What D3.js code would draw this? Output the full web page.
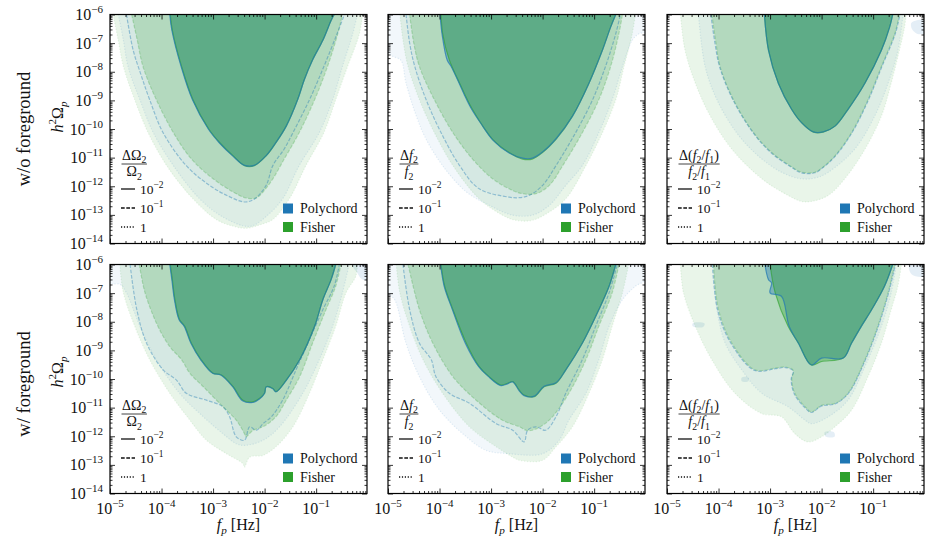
<!DOCTYPE html>
<html>
<head>
<meta charset="utf-8">
<script src="https://cdn.jsdelivr.net/npm/d3@7"></script>
<style>
body { margin: 0; background: #fff; }
#chart text { fill: #111; }
</style>
</head>
<body>
<svg id="chart" width="925" height="538"></svg>
<script>
// Contours are [log10 f_p, log10 h^2 Omega_p], traced along the lower edge of each region.
// Levels: index 0 -> 1 (dotted), 1 -> 1e-1 (dashed), 2 -> 1e-2 (solid)

// top-left: dOmega2/Omega2, w/o foreground
var fisherA1 = [[-4.94,-6],[-4.84,-6.9],[-4.74,-7.82],[-4.52,-8.98],[-4.26,-10.13],[-3.9,-11.28],[-3.39,-12.44],[-2.94,-13.16],[-2.6,-13.4],[-2.36,-13.47],[-2.1,-13.35],[-1.84,-13.16],[-1.52,-12.44],[-1.2,-11.28],[-0.85,-10.13],[-0.62,-8.98],[-0.39,-7.82],[-0.16,-6.67],[-0.1,-6]];
var fisherA2 = [[-4.58,-6],[-4.47,-6.9],[-4.36,-7.82],[-4.1,-8.98],[-3.77,-10.13],[-3.42,-11.05],[-3.0,-11.74],[-2.61,-12.2],[-2.36,-12.41],[-2.16,-12.41],[-2.03,-12.2],[-1.84,-11.74],[-1.62,-11.05],[-1.33,-10.13],[-1.03,-8.98],[-0.78,-7.82],[-0.58,-6.67],[-0.49,-6]];
var fisherA3 = [[-3.83,-6],[-3.79,-6.55],[-3.61,-7.82],[-3.39,-8.98],[-3.08,-10.01],[-2.87,-10.48],[-2.61,-10.94],[-2.39,-11.28],[-2.2,-11.28],[-1.97,-10.94],[-1.78,-10.48],[-1.58,-9.9],[-1.36,-8.98],[-1.23,-8.28],[-1.07,-7.59],[-0.87,-6.9],[-0.71,-6.21],[-0.65,-6]];
var polyA1 = [[-4.84,-6],[-4.74,-6.9],[-4.65,-7.82],[-4.42,-8.98],[-4.16,-10.13],[-3.77,-11.28],[-3.26,-12.44],[-2.87,-13.01],[-2.42,-13.38],[-2.23,-13.38],[-1.94,-13.01],[-1.65,-12.44],[-1.33,-11.28],[-0.94,-10.13],[-0.68,-8.98],[-0.49,-7.82],[-0.29,-6.67],[-0.2,-6]];
var polyA2 = [[-4.68,-6],[-4.55,-7.25],[-4.4,-8.1],[-4.23,-8.98],[-3.97,-10.13],[-3.52,-11.28],[-3.07,-11.97],[-2.7,-12.35],[-2.39,-12.55],[-2.2,-12.45],[-1.97,-11.97],[-1.84,-11.28],[-1.62,-10.7],[-1.45,-10.13],[-1.13,-8.98],[-0.85,-7.82],[-0.6,-6.7],[-0.45,-6]];
var polyA3 = [[-3.84,-6],[-3.8,-6.55],[-3.62,-7.82],[-3.4,-8.98],[-3.09,-10.01],[-2.88,-10.48],[-2.62,-10.94],[-2.39,-11.27],[-2.2,-11.27],[-1.97,-10.93],[-1.78,-10.47],[-1.58,-9.9],[-1.36,-8.98],[-1.23,-8.28],[-1.07,-7.59],[-0.87,-6.9],[-0.71,-6.21],[-0.65,-6]];

// top-middle: df2/f2, w/o foreground
var fisherB1 = [[-4.77,-6],[-4.7,-7],[-4.61,-7.82],[-4.39,-8.98],[-4.1,-10.13],[-3.74,-11.28],[-3.23,-12.44],[-2.78,-13.01],[-2.52,-13.19],[-2.2,-13.19],[-1.87,-12.9],[-1.55,-12.44],[-1.16,-11.28],[-0.84,-10.13],[-0.58,-8.98],[-0.42,-7.82],[-0.26,-6.67],[-0.2,-6]];
var fisherB2 = [[-4.58,-6],[-4.5,-7],[-4.39,-7.82],[-4.1,-8.98],[-3.74,-10.13],[-3.36,-11.05],[-2.97,-11.74],[-2.58,-12.15],[-2.39,-12.26],[-2.13,-12.26],[-1.87,-11.97],[-1.61,-11.28],[-1.23,-10.13],[-0.91,-8.98],[-0.68,-7.82],[-0.52,-6.67],[-0.45,-6]];
var fisherB3 = [[-3.97,-6],[-3.94,-6.67],[-3.81,-7.59],[-3.61,-8.4],[-3.36,-9.32],[-2.97,-10.36],[-2.65,-10.82],[-2.39,-11.05],[-2.2,-11.05],[-2.0,-10.82],[-1.74,-10.36],[-1.42,-9.55],[-1.1,-8.4],[-0.84,-7.25],[-0.68,-6.44],[-0.58,-6]];
var polyB1 = [[-5,-6],[-5,-7.3],[-4.92,-7.45],[-4.75,-7.6],[-4.65,-8.4],[-4.45,-9.55],[-4.26,-10.36],[-3.94,-11.28],[-3.48,-12.2],[-3.03,-12.67],[-2.58,-13.01],[-2.2,-13.01],[-1.87,-12.67],[-1.55,-11.97],[-1.23,-11.28],[-0.91,-10.13],[-0.65,-8.98],[-0.45,-7.82],[-0.26,-6.9],[-0.13,-6.67],[0,-6.6],[0,-6]];
var polyB2 = [[-4.65,-6],[-4.58,-7],[-4.48,-7.82],[-4.26,-8.98],[-3.97,-10.13],[-3.61,-11.28],[-3.23,-12.09],[-2.65,-12.38],[-2.45,-12.4],[-2.26,-12.32],[-2.0,-11.97],[-1.74,-11.28],[-1.36,-10.13],[-1.03,-8.98],[-0.78,-7.82],[-0.58,-6.67],[-0.49,-6]];
var polyB3 = [[-3.99,-6],[-3.95,-6.7],[-3.85,-7.6],[-3.78,-7.8],[-3.62,-8.4],[-3.52,-8.8],[-3.38,-9.3],[-3.2,-9.8],[-2.97,-10.38],[-2.65,-10.84],[-2.39,-11.02],[-2.2,-11.02],[-2.0,-10.8],[-1.74,-10.34],[-1.42,-9.55],[-1.1,-8.4],[-0.84,-7.25],[-0.68,-6.44],[-0.58,-6]];

// top-right: d(f2/f1)/(f2/f1), w/o foreground
var fisherC1 = [[-4.74,-6],[-4.65,-7.25],[-4.45,-8.4],[-4.16,-9.55],[-3.74,-10.71],[-3.16,-11.74],[-2.65,-12.32],[-2.39,-12.53],[-2.2,-12.53],[-1.87,-12.32],[-1.55,-11.74],[-1.16,-10.71],[-0.84,-9.55],[-0.65,-8.4],[-0.49,-7.25],[-0.39,-6.44],[-0.36,-6]];
var fisherC2 = [[-4.13,-6],[-4.05,-7],[-3.97,-7.82],[-3.71,-8.98],[-3.32,-10.13],[-2.97,-10.82],[-2.6,-11.3],[-2.39,-11.51],[-2.13,-11.51],[-1.95,-11.3],[-1.74,-10.94],[-1.42,-10.13],[-1.1,-8.98],[-0.84,-7.82],[-0.58,-6.67],[-0.49,-6]];
var fisherC3 = [[-3.11,-6],[-3.03,-7.25],[-2.84,-8.4],[-2.58,-9.32],[-2.39,-9.78],[-2.16,-10.11],[-1.97,-10.11],[-1.74,-9.9],[-1.49,-9.32],[-1.16,-8.4],[-0.84,-7.25],[-0.68,-6.44],[-0.62,-6]];
var polyC1 = [[-4.39,-6],[-4.26,-7.82],[-4.03,-8.98],[-3.65,-10.13],[-3.23,-10.94],[-2.78,-11.51],[-2.39,-11.74],[-2.1,-11.7],[-1.87,-11.51],[-1.36,-10.71],[-0.97,-9.55],[-0.71,-8.4],[-0.52,-7.25],[-0.42,-6]];
var polyC2 = [[-4.15,-6],[-4.07,-7],[-3.98,-7.82],[-3.72,-8.98],[-3.33,-10.13],[-2.98,-10.83],[-2.6,-11.32],[-2.39,-11.53],[-2.13,-11.53],[-1.95,-11.31],[-1.73,-10.94],[-1.41,-10.13],[-1.09,-8.98],[-0.83,-7.82],[-0.57,-6.67],[-0.48,-6]];
var polyC3 = [[-3.11,-6],[-3.03,-7.25],[-2.84,-8.4],[-2.58,-9.32],[-2.39,-9.78],[-2.16,-10.1],[-1.97,-10.1],[-1.74,-9.9],[-1.49,-9.32],[-1.16,-8.4],[-0.84,-7.25],[-0.68,-6.44],[-0.62,-6]];
var islandC = [[-0.26,-6.3],[-0.15,-6.2],[0,-6.2],[0,-6.65],[-0.15,-6.67],[-0.25,-6.5]];

// bottom-left: dOmega2/Omega2, w/ foreground
var fisherD1 = [[-4.81,-6],[-4.74,-6.99],[-4.52,-8.16],[-4.23,-9.33],[-3.84,-10.5],[-3.45,-11.44],[-3.13,-12.14],[-2.74,-12.61],[-2.42,-12.96],[-2.39,-13.08],[-2.29,-12.73],[-2.03,-12.67],[-1.78,-12.37],[-1.45,-11.67],[-1.13,-10.5],[-0.87,-9.33],[-0.62,-8.16],[-0.42,-6.99],[-0.23,-6.41],[-0.2,-6]];
var fisherD2 = [[-4.43,-6],[-4.32,-6.99],[-4.07,-8.16],[-3.84,-8.87],[-3.61,-9.33],[-3.45,-9.8],[-3.19,-10.27],[-2.81,-10.97],[-2.55,-11.44],[-2.39,-11.91],[-2.36,-12.02],[-2.23,-11.8],[-2.03,-11.67],[-1.78,-11.32],[-1.58,-10.74],[-1.32,-9.92],[-1.07,-8.75],[-0.81,-7.58],[-0.62,-6.76],[-0.52,-6]];
var fisherD3 = [[-3.83,-6],[-3.79,-6.53],[-3.74,-7.23],[-3.65,-7.93],[-3.55,-8.16],[-3.42,-8.75],[-3.23,-9.33],[-3.0,-9.8],[-2.84,-9.86],[-2.61,-10.27],[-2.42,-10.74],[-2.23,-10.8],[-2.1,-10.68],[-2.0,-10.5],[-1.97,-10.27],[-1.84,-10.33],[-1.78,-10.44],[-1.58,-10.04],[-1.32,-9.33],[-1.03,-8.16],[-0.87,-7.23],[-0.71,-6.53],[-0.62,-6]];
var polyD1 = [[-5,-6],[-5,-6.64],[-4.8,-6.7],[-4.68,-6.99],[-4.42,-8.16],[-4.1,-9.33],[-3.65,-10.5],[-3.19,-11.32],[-2.81,-11.91],[-2.55,-12.26],[-2.39,-12.32],[-2.03,-12.14],[-1.71,-11.67],[-1.26,-10.5],[-0.94,-9.33],[-0.68,-8.16],[-0.49,-6.99],[-0.36,-6]];
var polyD2 = [[-4.61,-6],[-4.48,-7.58],[-4.29,-8.75],[-3.97,-9.68],[-3.71,-10.04],[-3.52,-10.5],[-3.13,-10.74],[-2.81,-10.97],[-2.68,-11.32],[-2.55,-12.02],[-2.39,-12.14],[-2.29,-11.67],[-2.16,-11.79],[-2.03,-11.56],[-1.87,-11.32],[-1.65,-10.74],[-1.39,-9.68],[-1.16,-8.75],[-0.87,-7.58],[-0.65,-6.76],[-0.55,-6]];
var polyD3 = [[-3.84,-6],[-3.8,-6.53],[-3.75,-7.23],[-3.66,-7.93],[-3.56,-8.16],[-3.43,-8.75],[-3.24,-9.33],[-3.01,-9.8],[-2.85,-9.86],[-2.62,-10.27],[-2.43,-10.76],[-2.23,-10.82],[-2.1,-10.7],[-2.0,-10.5],[-1.97,-10.28],[-1.84,-10.34],[-1.78,-10.45],[-1.58,-10.05],[-1.32,-9.33],[-1.03,-8.16],[-0.87,-7.23],[-0.71,-6.53],[-0.62,-6]];
var islandD = [[-0.3,-6],[0,-6],[0,-6.55],[-0.12,-6.5],[-0.2,-6.3]];

// bottom-middle: df2/f2, w/ foreground
var fisherE1 = [[-4.84,-6],[-4.77,-6.99],[-4.58,-8.16],[-4.32,-9.33],[-3.94,-10.5],[-3.42,-11.67],[-2.9,-12.37],[-2.58,-12.73],[-2.45,-12.84],[-2.0,-12.84],[-1.74,-12.37],[-1.42,-11.67],[-1.1,-10.5],[-0.84,-9.33],[-0.65,-8.16],[-0.45,-6.99],[-0.33,-6]];
var fisherE2 = [[-4.61,-6],[-4.39,-7.58],[-4.13,-8.75],[-3.74,-9.92],[-3.29,-10.74],[-2.78,-11.44],[-2.45,-11.67],[-2.32,-11.79],[-2.2,-11.79],[-2.0,-11.62],[-1.81,-11.32],[-1.49,-10.5],[-1.16,-9.33],[-0.91,-8.16],[-0.65,-6.99],[-0.52,-6]];
var fisherE3 = [[-3.97,-6],[-3.9,-6.76],[-3.74,-7.58],[-3.48,-8.75],[-3.23,-9.57],[-3.05,-9.9],[-2.81,-10.21],[-2.68,-10.15],[-2.58,-10.09],[-2.45,-10.4],[-2.36,-10.56],[-2.16,-10.62],[-1.97,-10.27],[-1.74,-10.15],[-1.55,-9.68],[-1.23,-8.75],[-0.91,-7.58],[-0.71,-6.76],[-0.58,-6]];
var polyE1 = [[-5,-6],[-5,-7.0],[-4.87,-7.23],[-4.65,-8.75],[-4.39,-9.92],[-4.0,-11.09],[-3.48,-12.02],[-3.1,-12.49],[-2.65,-12.61],[-2.0,-12.61],[-1.68,-12.14],[-1.49,-11.44],[-1.16,-10.5],[-0.91,-9.33],[-0.71,-8.16],[-0.45,-7.23],[-0.2,-6.76],[0,-6.53],[0,-6]];
var polyE2 = [[-4.71,-6],[-4.58,-7.58],[-4.39,-8.75],[-4.16,-9.33],[-4.07,-9.92],[-3.81,-10.5],[-3.42,-10.85],[-2.9,-11.56],[-2.58,-11.79],[-2.36,-12.2],[-2.29,-11.79],[-2.13,-11.67],[-1.94,-11.79],[-1.74,-11.32],[-1.55,-10.5],[-1.23,-9.33],[-0.97,-8.16],[-0.71,-6.99],[-0.55,-6]];
var polyE3 = [[-3.98,-6],[-3.91,-6.76],[-3.75,-7.58],[-3.5,-8.75],[-3.24,-9.57],[-3.06,-9.9],[-2.81,-10.23],[-2.68,-10.17],[-2.58,-10.1],[-2.45,-10.42],[-2.36,-10.58],[-2.16,-10.6],[-1.97,-10.25],[-1.74,-10.13],[-1.55,-9.68],[-1.23,-8.75],[-0.91,-7.58],[-0.71,-6.76],[-0.58,-6]];

// bottom-right: d(f2/f1)/(f2/f1), w/ foreground
var fisherF1 = [[-4.74,-6],[-4.68,-6.99],[-4.45,-8.16],[-4.13,-9.33],[-3.68,-10.5],[-3.16,-11.21],[-2.78,-11.32],[-2.52,-11.91],[-2.26,-12.2],[-2.0,-12.02],[-1.74,-11.67],[-1.42,-11.09],[-1.1,-9.92],[-0.84,-8.75],[-0.65,-7.58],[-0.52,-6.76],[-0.45,-6]];
var fisherF2 = [[-4.1,-6],[-4.0,-7.58],[-3.74,-8.75],[-3.29,-9.68],[-2.9,-9.62],[-2.7,-9.58],[-2.55,-9.7],[-2.58,-10.0],[-2.52,-10.5],[-2.32,-10.97],[-2.2,-11.15],[-2.0,-10.92],[-1.74,-10.85],[-1.49,-10.5],[-1.16,-9.33],[-0.91,-8.16],[-0.71,-6.99],[-0.58,-6]];
var fisherF3 = [[-3.0,-6],[-2.9,-6.99],[-2.65,-8.16],[-2.45,-8.75],[-2.2,-9.51],[-2.0,-9.39],[-1.58,-9.27],[-1.42,-8.75],[-1.23,-8.16],[-1.03,-7.58],[-0.78,-6.76],[-0.62,-6]];
var polyF1 = [[-4.1,-6],[-4.03,-7.58],[-3.87,-8.75],[-3.55,-9.68],[-3.16,-10.5],[-2.65,-10.97],[-2.32,-11.44],[-2.2,-11.56],[-1.87,-11.32],[-1.49,-10.74],[-1.16,-9.57],[-0.84,-8.16],[-0.65,-6.99],[-0.55,-6]];
var polyF2 = [[-4.12,-6],[-4.02,-7.58],[-3.76,-8.75],[-3.3,-9.7],[-2.9,-9.64],[-2.7,-9.6],[-2.55,-9.72],[-2.59,-10.0],[-2.53,-10.52],[-2.33,-10.99],[-2.2,-11.17],[-2.0,-10.94],[-1.74,-10.87],[-1.48,-10.5],[-1.15,-9.33],[-0.9,-8.16],[-0.7,-6.99],[-0.57,-6]];
var polyF3 = [[-3.1,-6],[-3.03,-6.53],[-2.97,-6.64],[-3.0,-6.99],[-2.78,-7.11],[-2.63,-8.16],[-2.45,-8.75],[-2.2,-9.51],[-2.0,-9.27],[-1.58,-9.27],[-1.42,-8.75],[-1.23,-8.16],[-1.03,-7.58],[-0.78,-6.76],[-0.62,-6]];
var islandF1 = [[-4.5,-8.05],[-4.27,-8.06],[-4.3,-8.18],[-4.5,-8.16]];
var islandF2 = [[-3.55,-9.95],[-3.42,-9.95],[-3.42,-10.08],[-3.55,-10.08]];
var islandF3 = [[-1.94,-11.85],[-1.76,-11.86],[-1.75,-12.02],[-1.93,-12.0]];
var islandF4 = [[-0.3,-6],[0,-6],[0,-6.4],[-0.25,-6.35]];

// axes
var xDomain = [1e-5, 0.97];
var yDomain = [1e-14, 1e-6];
var xTickExp = [-5, -4, -3, -2, -1];
var yTickExp = [-6, -7, -8, -9, -10, -11, -12, -13, -14];
var rowLabels = ["w/o foreground", "w/ foreground"];
var methodNames = ["Polychord", "Fisher"];
var methodColors = ["#1f77b4", "#2ca02c"];
var levelExp = ["\u22122", "\u22121", ""];
var levelDash = [null, "3.7,1.6", "1.2,1.7"];

// fraction titles of the legends, one per column
var fracNum = [
	[{t: "\u0394\u03a9"}, {t: "2", sub: 1}],
	[{t: "\u0394"}, {t: "f", i: 1}, {t: "2", sub: 1}],
	[{t: "\u0394("}, {t: "f", i: 1}, {t: "2", sub: 1}, {t: "/"}, {t: "f", i: 1}, {t: "1", sub: 1}, {t: ")"}]
];
var fracDen = [
	[{t: "\u03a9"}, {t: "2", sub: 1}],
	[{t: "f", i: 1}, {t: "2", sub: 1}],
	[{t: "f", i: 1}, {t: "2", sub: 1}, {t: "/"}, {t: "f", i: 1}, {t: "1", sub: 1}]
];

var panels = [
	{row: 0, col: 0, fisher: [fisherA1, fisherA2, fisherA3], poly: [polyA1, polyA2, polyA3], islands: []},
	{row: 0, col: 1, fisher: [fisherB1, fisherB2, fisherB3], poly: [polyB1, polyB2, polyB3], islands: []},
	{row: 0, col: 2, fisher: [fisherC1, fisherC2, fisherC3], poly: [polyC1, polyC2, polyC3], islands: [islandC]},
	{row: 1, col: 0, fisher: [fisherD1, fisherD2, fisherD3], poly: [polyD1, polyD2, polyD3], islands: [islandD]},
	{row: 1, col: 1, fisher: [fisherE1, fisherE2, fisherE3], poly: [polyE1, polyE2, polyE3], islands: []},
	{row: 1, col: 2, fisher: [fisherF1, fisherF2, fisherF3], poly: [polyF1, polyF2, polyF3], islands: [islandF1, islandF2, islandF3, islandF4]}
];

var W = 257, H = 229;
var colLeft = [110, 388, 667];
var rowTop = [14.5, 264.5];

var polyFill = [0.06, 0.04, 0.38];
var fisherFill = [0.1, 0.2, 0.36];
var polyStroke = [0.12, 0.4, 0.7];
var fisherStroke = [0.1, 0.25, 0.6];

// first serif face that the browser really has
function pickFont(list) {
	var ctx = document.createElement("canvas").getContext("2d");
	var s = "Polychord Fisher foreground 0123456789";
	for (var i = 0; i < list.length; i++) {
		var hit = ["monospace", "sans-serif"].some(function(base) {
			ctx.font = "20px " + base;
			var w0 = ctx.measureText(s).width;
			ctx.font = "20px '" + list[i] + "', " + base;
			return ctx.measureText(s).width !== w0;
		});
		if (hit) return list[i];
	}
	return "serif";
}
var FONT = pickFont(["Liberation Serif", "DejaVu Serif", "Noto Serif", "Times New Roman"]);

var svg = d3.select("#chart").style("font-family", "'" + FONT + "', serif");

// text with italic / sub / superscript pieces
function rich(sel, parts, size) {
	var cur = 0;
	parts.forEach(function(p) {
		var off = p.sub ? size * 0.28 : (p.sup ? -size * 0.42 : 0);
		var ts = sel.append("tspan").attr("dy", off - cur).text(p.t)
			.attr("font-size", (p.sub || p.sup) ? size * 0.7 : size);
		if (p.i) ts.attr("font-style", "italic");
		cur = off;
	});
	return sel;
}

function drawTicks(g, axisFn, scale, vals, size, tx, ty) {
	g.append("g").attr("transform", "translate(" + tx + "," + ty + ")")
		.call(axisFn(scale).tickValues(vals).tickSizeInner(-size).tickSizeOuter(0)
			.tickFormat(function() { return ""; }))
		.call(function(a) { a.select(".domain").remove(); })
		.selectAll("line").attr("stroke", "#000").attr("stroke-width", 0.8);
}

function drawPanel(p) {
	var g = svg.append("g").attr("transform", "translate(" + colLeft[p.col] + "," + rowTop[p.row] + ")");
	var x = d3.scaleLog().domain(xDomain).range([0, W]);
	var y = d3.scaleLog().domain(yDomain).range([H, 0]);
	var clipId = "clip" + p.row + p.col;
	g.append("clipPath").attr("id", clipId).append("rect").attr("width", W).attr("height", H);
	var plot = g.append("g").attr("clip-path", "url(#" + clipId + ")");

	var line = d3.line()
		.x(function(d) { return x(Math.pow(10, d[0])); })
		.y(function(d) { return y(Math.pow(10, d[1])); })
		.curve(d3.curveCatmullRom.alpha(0.5));
	var blob = d3.line()
		.x(function(d) { return x(Math.pow(10, d[0])); })
		.y(function(d) { return y(Math.pow(10, d[1])); })
		.curve(d3.curveCatmullRomClosed);

	p.islands.forEach(function(isl) {
		plot.append("path").attr("d", blob(isl)).attr("fill", methodColors[0]).attr("fill-opacity", 0.12);
	});

	// filled regions, outer level first
	for (var lv = 0; lv < 3; lv++) {
		plot.append("path").attr("d", line(p.poly[lv]) + "Z")
			.attr("fill", methodColors[0]).attr("fill-opacity", polyFill[lv]);
		plot.append("path").attr("d", line(p.fisher[lv]) + "Z")
			.attr("fill", methodColors[1]).attr("fill-opacity", fisherFill[lv]);
	}
	// contour lines, Polychord on top
	for (var lv = 0; lv < 3; lv++) {
		var dash = levelDash[2 - lv];
		plot.append("path").attr("d", line(p.fisher[lv])).attr("fill", "none")
			.attr("stroke", methodColors[1]).attr("stroke-opacity", fisherStroke[lv])
			.attr("stroke-width", 1.2).attr("stroke-dasharray", dash);
		plot.append("path").attr("d", line(p.poly[lv])).attr("fill", "none")
			.attr("stroke", methodColors[0]).attr("stroke-opacity", polyStroke[lv])
			.attr("stroke-width", 1.2).attr("stroke-dasharray", dash);
	}

	// ticks on all four sides, pointing inwards
	var xMaj = xTickExp.map(function(e) { return Math.pow(10, e); });
	var yMaj = yTickExp.map(function(e) { return Math.pow(10, e); });
	var xMin = [], yMin = [];
	xTickExp.forEach(function(e) { for (var m = 2; m < 10; m++) xMin.push(m * Math.pow(10, e)); });
	yTickExp.slice(1).forEach(function(e) { for (var m = 2; m < 10; m++) yMin.push(m * Math.pow(10, e)); });
	drawTicks(g, d3.axisBottom, x, xMaj, 5, 0, H);
	drawTicks(g, d3.axisBottom, x, xMin, 2.5, 0, H);
	drawTicks(g, d3.axisTop, x, xMaj, 5, 0, 0);
	drawTicks(g, d3.axisTop, x, xMin, 2.5, 0, 0);
	drawTicks(g, d3.axisLeft, y, yMaj, 5, 0, 0);
	drawTicks(g, d3.axisLeft, y, yMin, 2.5, 0, 0);
	drawTicks(g, d3.axisRight, y, yMaj, 5, W, 0);
	drawTicks(g, d3.axisRight, y, yMin, 2.5, W, 0);

	g.append("rect").attr("width", W).attr("height", H)
		.attr("fill", "none").attr("stroke", "#000").attr("stroke-width", 1.2);

	if (p.col === 0) {
		yTickExp.forEach(function(e) {
			var t = g.append("text").attr("x", -7).attr("y", y(Math.pow(10, e)) + 5.5)
				.attr("text-anchor", "end").attr("font-size", 16);
			t.append("tspan").text("10");
			t.append("tspan").attr("dy", -7).attr("font-size", 11).text("\u2212" + (-e));
		});
	}
	if (p.row === 1) {
		xTickExp.forEach(function(e) {
			var t = g.append("text").attr("x", x(Math.pow(10, e))).attr("y", H + 20)
				.attr("text-anchor", "middle").attr("font-size", 16);
			t.append("tspan").text("10");
			t.append("tspan").attr("dy", -7).attr("font-size", 11).text("\u2212" + (-e));
		});
		rich(g.append("text").attr("x", W / 2).attr("y", H + 36.5).attr("text-anchor", "middle"),
			[{t: "f", i: 1}, {t: "p", i: 1, sub: 1}, {t: " [Hz]"}], 16);
	}

	// legend: error level
	var num = rich(g.append("text").attr("x", 12).attr("y", 145), fracNum[p.col], 14);
	var nw = num.node().getBBox().width;
	g.append("line").attr("x1", 11.5).attr("x2", 12.5 + nw).attr("y1", 149.5).attr("y2", 149.5)
		.attr("stroke", "#111").attr("stroke-width", 0.8);
	rich(g.append("text").attr("x", 12 + nw / 2).attr("y", 161.5).attr("text-anchor", "middle"), fracDen[p.col], 14);
	for (var k = 0; k < 3; k++) {
		var ly = 174.5 + k * 19;
		g.append("line").attr("x1", 11).attr("x2", 25).attr("y1", ly).attr("y2", ly)
			.attr("stroke", "#111").attr("stroke-width", 1.3).attr("stroke-dasharray", levelDash[k]);
		var t = g.append("text").attr("x", 30).attr("y", ly + 4.5).attr("font-size", 13.5);
		if (levelExp[k]) {
			t.append("tspan").text("10");
			t.append("tspan").attr("dy", -5.5).attr("font-size", 9.5).text(levelExp[k]);
		} else {
			t.text("1");
		}
	}
	// legend: method
	methodNames.forEach(function(name, i) {
		g.append("rect").attr("x", 173).attr("y", 189 + i * 18.5).attr("width", 10).attr("height", 10)
			.attr("fill", methodColors[i]);
		g.append("text").attr("x", 190).attr("y", 198.5 + i * 18.5).attr("font-size", 14).text(name);
	});
}

panels.forEach(drawPanel);

// row labels
rowLabels.forEach(function(label, r) {
	var cy = rowTop[r] + H / 2;
	svg.append("text").attr("transform", "translate(30," + (cy + (r ? 5 : 0)) + ") rotate(-90)")
		.attr("text-anchor", "middle").attr("font-size", 18.5).text(label);
	rich(svg.append("text").attr("transform", "translate(63," + (cy - (r ? 7 : 12)) + ") rotate(-90)")
		.attr("text-anchor", "middle"),
		[{t: "h", i: 1}, {t: "2", sup: 1}, {t: "\u03a9"}, {t: "p", i: 1, sub: 1}], 16);
});
</script>
</body>
</html>
